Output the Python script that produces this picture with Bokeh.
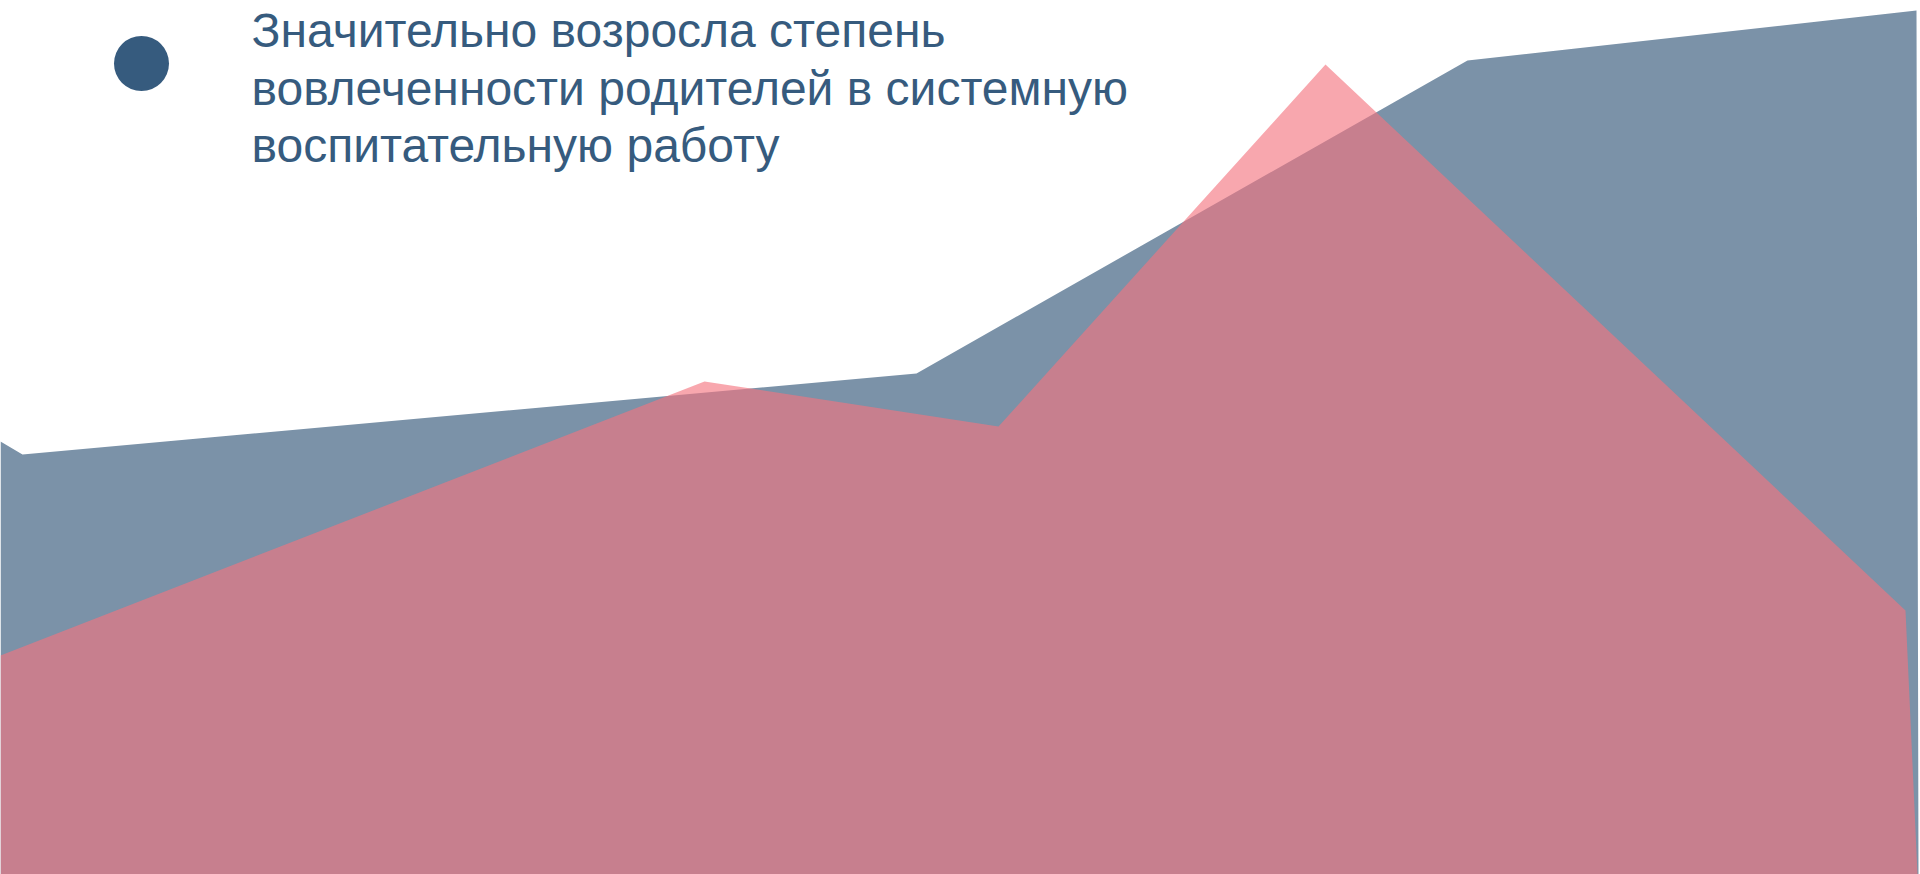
from bokeh.plotting import figure
from bokeh.models import Range1d
from bokeh.core.properties import value
from bokeh.embed import file_html
from bokeh.resources import INLINE

# Series outlines (x positions and heights, in chart units: 0..1920 wide, 0..874 tall)
blue_x = [0, 22, 916, 1467, 1916, 1918]
blue_y = [433, 420, 501, 814, 864, 0]

pink_x = [0, 704, 998, 1325, 1905, 1917]
pink_y = [219, 493, 448, 810, 264, 0]

legend_lines = [
    "Значительно возросла степень",
    "вовлеченности родителей в системную",
    "воспитательную работу",
]

BLUE = "#7B92A8"
PINK = "#F4747F"
DARK = "#365B7E"

p = figure(width=1920, height=874, output_backend="svg", toolbar_location=None,
           x_range=Range1d(0, 1920), y_range=Range1d(0, 874),
           min_border=0, background_fill_color="white", border_fill_color="white")
p.axis.visible = False
p.grid.visible = False
p.outline_line_color = None

p.varea(x=blue_x, y1=[0] * len(blue_x), y2=blue_y, fill_color=BLUE, fill_alpha=1.0)
p.varea(x=pink_x, y1=[0] * len(pink_x), y2=pink_y, fill_color=PINK, fill_alpha=0.63)

# legend marker
p.scatter(x=[141], y=[811], marker="circle", size=55, fill_color=DARK, line_color=None)

# legend text
base_y = [844, 786.5, 729]
p.text(x=[251] * 3, y=base_y, text=legend_lines, text_font=value("Liberation Sans"),
       text_font_size="48px", text_color=DARK, text_align="left",
       text_baseline="alphabetic")

open("out.html", "w").write(file_html(p, INLINE))
